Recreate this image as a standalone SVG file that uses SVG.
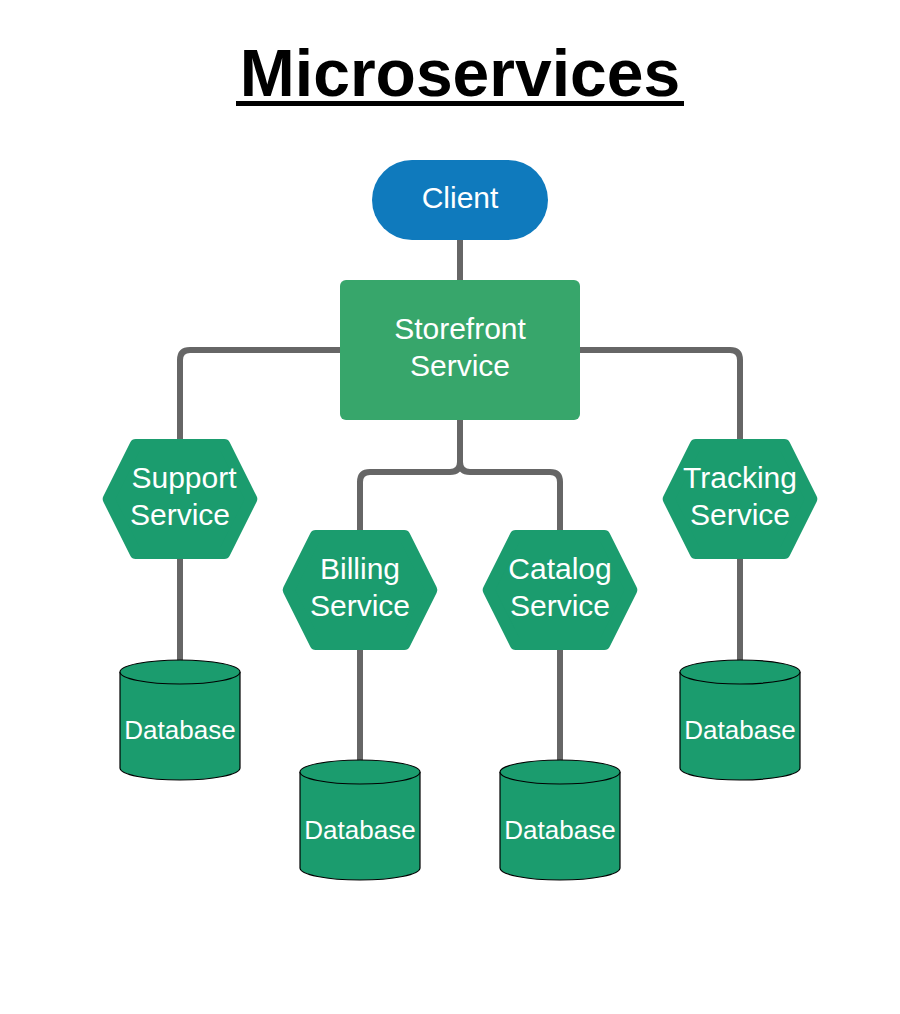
<svg xmlns="http://www.w3.org/2000/svg" width="900" height="1014" viewBox="0 0 900 1014">
<style>
.t{font-family:"Liberation Sans",Arial,sans-serif;fill:#fff;text-anchor:middle}
.lbl{font-size:30px}
.db{font-size:26px}
.con{fill:none;stroke:#666;stroke-width:6}
.hex{fill:#1b9c6e;stroke:#1b9c6e;stroke-width:12;stroke-linejoin:round}
.cyl{fill:#1b9c6e;stroke:#000;stroke-width:1.2}
</style>
<defs>
<polygon id="hx" points="-71.3,0 -44.3,-54 44.3,-54 71.3,0 44.3,54 -44.3,54" class="hex"/>
<g id="cy">
<path class="cyl" d="M-60,-48 V48 A60,12 0 0 0 60,48 V-48"/>
<ellipse class="cyl" cx="0" cy="-48" rx="60" ry="12"/>
</g>
</defs>
<rect width="900" height="1014" fill="#fff"/>
<g id="title">
<text x="460" y="96" font-family="'Liberation Sans',Arial,sans-serif" font-weight="bold" font-size="66" text-anchor="middle" fill="#000">Microservices</text>
<rect x="236" y="101" width="448" height="5" fill="#000"/>
</g>
<g id="connectors">
<path class="con" d="M460,240 V280"/>
<path class="con" d="M340,350 H190 Q180,350 180,360 V440"/>
<path class="con" d="M580,350 H730 Q740,350 740,360 V440"/>
<path class="con" d="M460,420 V462 Q460,472 450,472 H370 Q360,472 360,482 V530"/>
<path class="con" d="M460,462 Q460,472 470,472 H550 Q560,472 560,482 V530"/>
<path class="con" d="M180,559 V662"/>
<path class="con" d="M360,650 V762"/>
<path class="con" d="M560,650 V762"/>
<path class="con" d="M740,559 V662"/>
</g>
<g id="client">
<rect x="372" y="160" width="176" height="80" rx="40" fill="#0f7abd"/>
<text class="t lbl" x="460" y="208">Client</text>
</g>
<g id="storefront">
<rect x="340" y="280" width="240" height="140" rx="6" fill="#37a66b"/>
<text class="t lbl" x="460" y="339">Storefront</text>
<text class="t lbl" x="460" y="376">Service</text>
</g>
<g id="support">
<use href="#hx" x="180" y="499"/>
<text class="t lbl" x="184" y="488">Support</text>
<text class="t lbl" x="180" y="525">Service</text>
</g>
<g id="billing">
<use href="#hx" x="360" y="590"/>
<text class="t lbl" x="360" y="579">Billing</text>
<text class="t lbl" x="360" y="616">Service</text>
</g>
<g id="catalog">
<use href="#hx" x="560" y="590"/>
<text class="t lbl" x="560" y="579">Catalog</text>
<text class="t lbl" x="560" y="616">Service</text>
</g>
<g id="tracking">
<use href="#hx" x="740" y="499"/>
<text class="t lbl" x="740" y="488">Tracking</text>
<text class="t lbl" x="740" y="525">Service</text>
</g>
<g id="db1">
<use href="#cy" x="180" y="720"/>
<text class="t db" x="180" y="739">Database</text>
</g>
<g id="db2">
<use href="#cy" x="360" y="820"/>
<text class="t db" x="360" y="839">Database</text>
</g>
<g id="db3">
<use href="#cy" x="560" y="820"/>
<text class="t db" x="560" y="839">Database</text>
</g>
<g id="db4">
<use href="#cy" x="740" y="720"/>
<text class="t db" x="740" y="739">Database</text>
</g>
</svg>
